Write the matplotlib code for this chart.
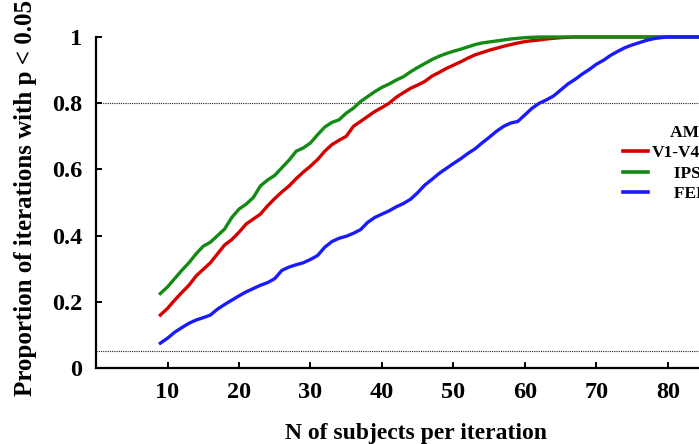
import matplotlib
matplotlib.use("Agg")
import matplotlib.pyplot as plt

# N of subjects per iteration
n_subjects = list(range(9, 89))

# proportion of iterations with p < 0.05
v1v4 = [0.16, 0.18, 0.205, 0.228, 0.25, 0.278, 0.298, 0.318, 0.345, 0.372,
        0.388, 0.41, 0.435, 0.45, 0.465, 0.49, 0.512, 0.532, 0.55, 0.572,
        0.592, 0.61, 0.63, 0.655, 0.675, 0.688, 0.70, 0.73, 0.745, 0.76,
        0.775, 0.787, 0.80, 0.818, 0.832, 0.845, 0.855, 0.866, 0.882, 0.893,
        0.905, 0.915, 0.925, 0.936, 0.946, 0.953, 0.96, 0.966, 0.972, 0.977,
        0.982, 0.986, 0.989, 0.991, 0.994, 0.996, 0.998, 0.999, 1.0, 1.0,
        1.0, 1.0, 1.0, 1.0, 1.0, 1.0, 1.0, 1.0, 1.0, 1.0,
        1.0, 1.0, 1.0, 1.0, 1.0, 1.0, 1.0, 1.0, 1.0, 1.0]
ips = [0.225, 0.245, 0.27, 0.295, 0.318, 0.345, 0.368, 0.38, 0.40, 0.42,
       0.455, 0.48, 0.495, 0.515, 0.55, 0.568, 0.582, 0.605, 0.628, 0.655,
       0.665, 0.68, 0.705, 0.728, 0.742, 0.75, 0.77, 0.785, 0.805, 0.82,
       0.835, 0.848, 0.858, 0.87, 0.88, 0.895, 0.908, 0.92, 0.932, 0.942,
       0.95, 0.957, 0.963, 0.97, 0.977, 0.982, 0.985, 0.988, 0.991, 0.994,
       0.996, 0.998, 0.999, 1.0, 1.0, 1.0, 1.0, 1.0, 1.0, 1.0,
       1.0, 1.0, 1.0, 1.0, 1.0, 1.0, 1.0, 1.0, 1.0, 1.0,
       1.0, 1.0, 1.0, 1.0, 1.0, 1.0, 1.0, 1.0, 1.0, 1.0]
fef = [0.075, 0.09, 0.108, 0.122, 0.135, 0.145, 0.152, 0.16, 0.178, 0.192,
       0.205, 0.218, 0.23, 0.24, 0.25, 0.258, 0.27, 0.295, 0.305, 0.312,
       0.318, 0.328, 0.34, 0.365, 0.382, 0.392, 0.398, 0.407, 0.418, 0.44,
       0.455, 0.465, 0.475, 0.487, 0.497, 0.51, 0.53, 0.553, 0.57, 0.588,
       0.603, 0.618, 0.632, 0.648, 0.662, 0.68, 0.697, 0.715, 0.73, 0.74,
       0.745, 0.765, 0.785, 0.80, 0.81, 0.822, 0.84, 0.858, 0.872, 0.888,
       0.902, 0.918, 0.93, 0.945, 0.957, 0.968, 0.976, 0.983, 0.99, 0.995,
       0.998, 1.0, 1.0, 1.0, 1.0, 1.0, 1.0, 1.0, 1.0, 1.0]

series_labels = ["V1-V4", "     IPS", "     FEF"]
legend_title = "           AMI"
x_ticks = [10, 20, 30, 40, 50, 60, 70, 80, 90, 100]
y_ticks = [0, 0.2, 0.4, 0.6, 0.8, 1]
y_tick_labels = ["0", "0.2", "0.4", "0.6", "0.8", "1"]
thresholds = [0.8, 0.05]

plt.rcParams['font.family'] = ['Liberation Serif', 'DejaVu Serif']
plt.rcParams['font.weight'] = 'bold'

W, H = 699, 444
fig = plt.figure(figsize=(W / 100, H / 100), dpi=100)
# the axes runs off the right edge of the picture, like the original crop
ax = fig.add_axes([96 / W, (H - 368) / H, 715 / W, 331 / H])

for t in thresholds:
    ax.axhline(t, color='#222222', lw=0.8, ls=(0, (1, 1)), zorder=1)

ax.plot(n_subjects, v1v4, color='#d40000', lw=2.4, label=series_labels[0],
        clip_on=False, zorder=3)
ax.plot(n_subjects, ips, color='#138a13', lw=2.4, label=series_labels[1],
        clip_on=False, zorder=3)
ax.plot(n_subjects, fef, color='#1a1aff', lw=2.4, label=series_labels[2],
        clip_on=False, zorder=3)

ax.set_xlim(0, 100)
ax.set_ylim(0, 1)
ax.set_xticks(x_ticks)
ax.set_yticks(y_ticks)
ax.set_yticklabels(y_tick_labels)
ax.spines['top'].set_visible(False)
ax.spines['right'].set_visible(False)
for s in ['left', 'bottom']:
    ax.spines[s].set_linewidth(1.6)
ax.tick_params(direction='in', length=4, width=1.4, pad=10, labelsize=17.5)

ax.set_xlabel("N of subjects per iteration", fontsize=17, fontweight='bold')
ax.xaxis.set_label_coords((416 - 96) / 715, -0.165)
ax.xaxis.label.set_va('top')
ax.set_ylabel("Proportion of iterations with p < 0.05", fontsize=18,
              fontweight='bold')
ax.yaxis.set_label_coords((37 - 96) / 715, 0.515)

leg = ax.legend(loc='upper left', bbox_to_anchor=(609 / W, (H - 111) / H),
                bbox_transform=fig.transFigure, frameon=False,
                title=legend_title, alignment='left',
                prop={'size': 12.5, 'weight': 'bold'},
                title_fontproperties={'size': 12.5, 'weight': 'bold'},
                handlelength=1.45, handletextpad=0.2, labelspacing=0.25,
                borderpad=0.3)
for line in leg.get_lines():
    line.set_linewidth(2.6)

fig.savefig("out.png", dpi=100)
